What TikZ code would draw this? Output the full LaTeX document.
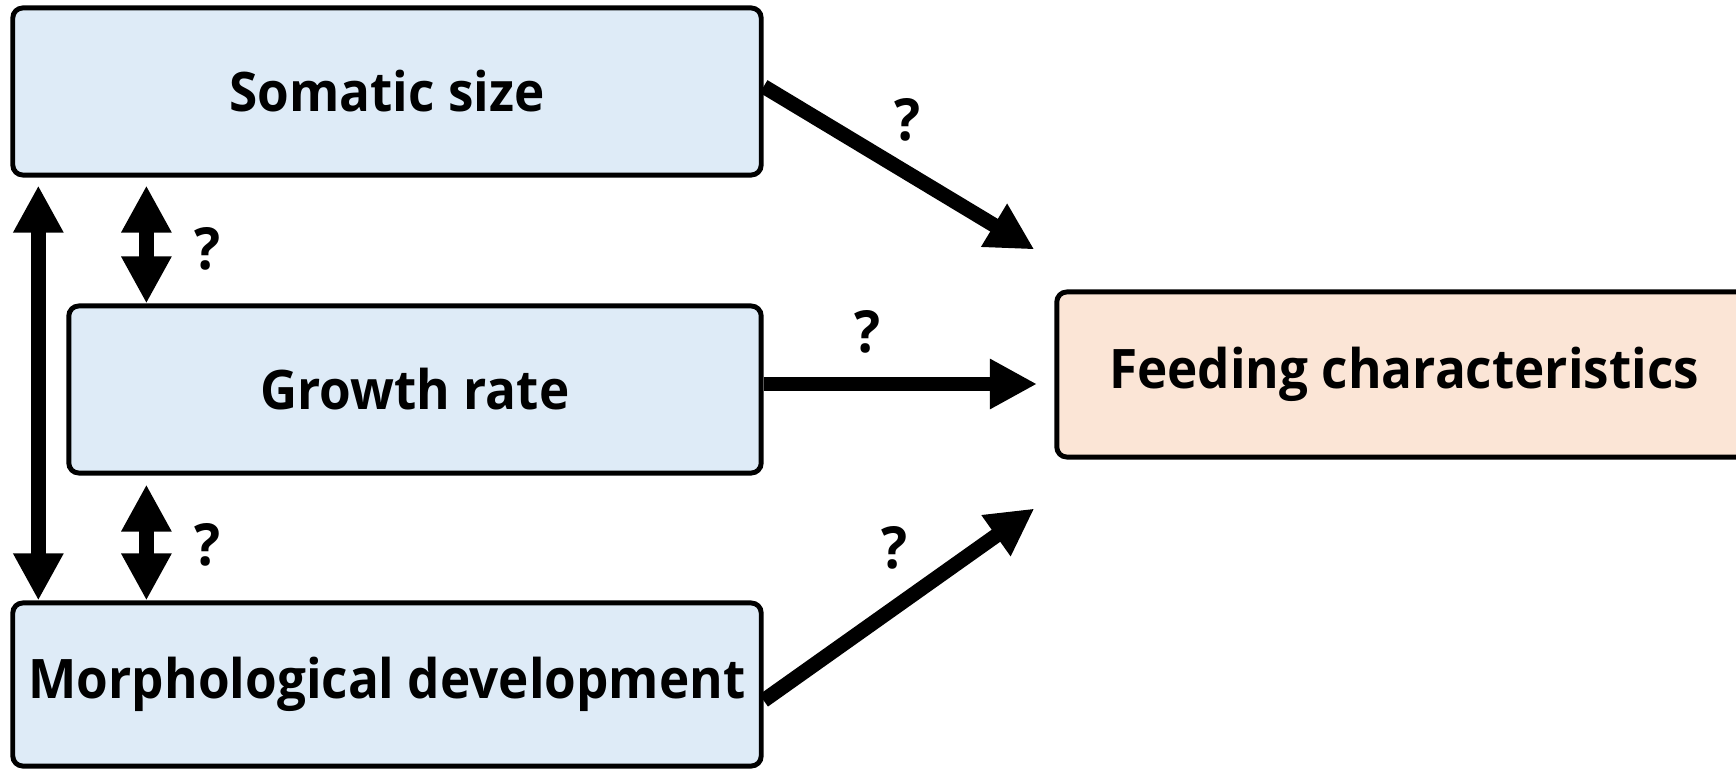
\documentclass[tikz,border=0pt]{standalone}
\usepackage{fontspec}
\setmainfont{Open Sans}[FakeStretch=0.94]
\usetikzlibrary{arrows.meta,positioning}
\definecolor{Bcolor}{HTML}{DEEBF7}
\definecolor{Fcolor}{HTML}{FBE5D6}

\begin{document}
\begin{tikzpicture}[
  x=0.01cm, y=-0.01cm,
  trait/.style={draw, line width=1.4pt, rounded corners=0.1cm, fill=Bcolor, minimum height=1.67cm, font=\bfseries\fontsize{15.5}{19}\selectfont},
  arr/.style={-{Triangle[width=0.47cm, length=0.47cm]}, line width=4.2pt},
  dbl/.style={{Triangle[width=0.47cm, length=0.47cm]}-{Triangle[width=0.47cm, length=0.47cm]}, line width=4.2pt},
  qm/.style={font=\bfseries\fontsize{16.5}{19}\selectfont},
]
  \clip (0,0) rectangle (1736,770);

  % Nodes
  \node[trait, minimum width=7.48cm] (soma) at (387,91.5) {Somatic size};
  \node[trait, minimum width=6.92cm] (growth) at (415,389.5) {Growth rate};
  \node[trait, minimum width=7.48cm, minimum height=1.63cm] (morph) at (387,684.5) {Morphological development};
  \node[trait, fill=Fcolor, minimum width=6.94cm, minimum height=1.65cm] (feed) at (1404,374.5) {Feeding characteristics};

  % Arrow ends
  \coordinate (tS) at ([shift={(-0.2cm,0.4cm)}]feed.north west);
  \coordinate (tG) at (1037,384);
  \coordinate (tM) at ([shift={(-0.2cm,-0.49cm)}]feed.south west);

  % Edges
  \draw[arr] ([yshift=0.05cm]soma.east) -- (tS);
  \draw[arr] (growth.east |- tG) -- (tG);
  \draw[arr] ([yshift=-0.16cm]morph.east) -- (tM);
  \draw[dbl] ([xshift=0.28cm, yshift=-0.08cm]soma.south west) -- ([xshift=0.28cm]morph.north west);
  \draw[dbl] ([xshift=1.36cm, yshift=-0.08cm]soma.south west) -- ([xshift=0.80cm]growth.north west);
  \draw[dbl] ([xshift=0.80cm, yshift=-0.09cm]growth.south west) -- ([xshift=1.36cm]morph.north west);

  % Labels
  \node[qm] (q1) at (908,120) {?};
  \node[qm] (q2) at (867,332) {?};
  \node[qm] (q3) at (895,548) {?};
  \node[qm] (q4) at (208,249) {?};
  \node[qm] (q5) at (208,545) {?};
\end{tikzpicture}
\end{document}
